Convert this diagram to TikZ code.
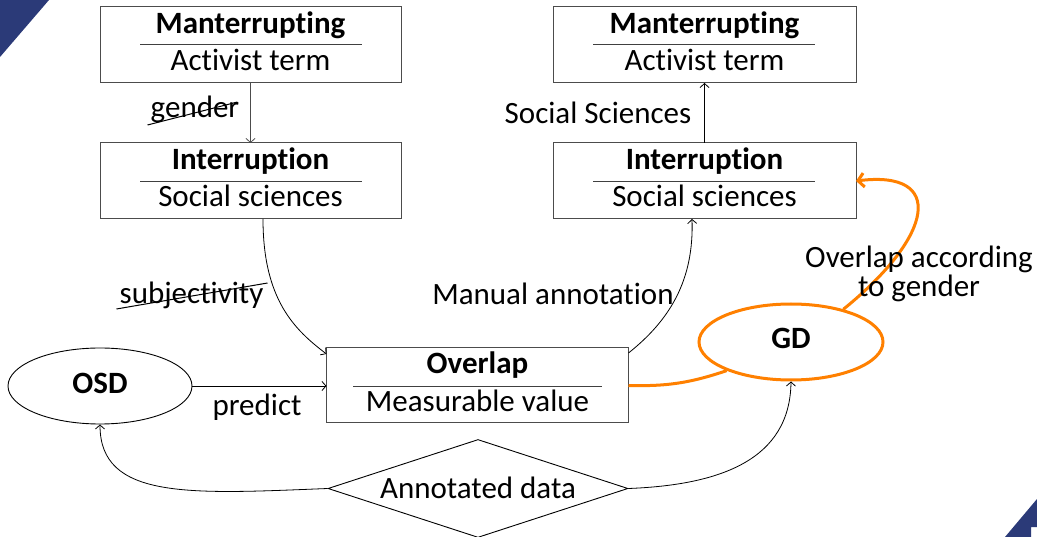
\documentclass[tikz,border=0pt]{standalone}
\usepackage{fontspec}
\setmainfont[Ligatures={NoCommon,NoRequired,NoContextual}]{Carlito}
\usetikzlibrary{arrows.meta,shapes.geometric,calc}
\definecolor{navy}{HTML}{2B3A78}
\definecolor{accent}{HTML}{FF8000}
\tikzset{
  txt/.style={font=\fontsize{31}{29}\selectfont, inner sep=0pt, anchor=base},
  ttl/.style={txt, font=\fontsize{31}{29}\selectfont\bfseries},
  frame/.style={draw=black!70, line width=1pt, inner sep=0pt, outer sep=0pt, rectangle},
  divider/.style={draw=black!75, line width=1pt},
  link/.style={draw=black, line width=0.8pt, -{Straight Barb[length=4pt,width=9pt]}},
  hot/.style={draw=accent, line width=3pt},
  hotlink/.style={hot, -{Straight Barb[length=6pt,width=14pt]}},
  strike/.style={draw=black, line width=1pt},
}
\begin{document}
\begin{tikzpicture}[x=1pt,y=-1pt]
\useasboundingbox (0,0) rectangle (1037,537);

% corner marks
\fill[navy] (0,0) -- (49,0) -- (0,57) -- cycle;
\fill[navy] (1005,537) -- (1037,499) -- (1037,527) -- (1031,527) -- (1031,537) -- cycle;

% two-part boxes
\node[frame, minimum width=301pt, minimum height=76pt] (m1) at (250.5,45) {};
\node[ttl] (m1t) at (250.5,34) {Manterrupting};
\draw[divider] (140,45) -- (362,45);
\node[txt] (m1s) at (250.5,71) {Activist term};

\node[frame, minimum width=303pt, minimum height=76pt] (m2) at (704.5,45) {};
\node[ttl] (m2t) at (704.5,34) {Manterrupting};
\draw[divider] (593,45) -- (815,45);
\node[txt] (m2s) at (704.5,71) {Activist term};

\node[frame, minimum width=301pt, minimum height=76pt] (i1) at (250.5,181) {};
\node[ttl] (i1t) at (250.5,170) {Interruption};
\draw[divider] (140,182) -- (362,182);
\node[txt] (i1s) at (250.5,207) {Social sciences};

\node[frame, minimum width=303pt, minimum height=76pt] (i2) at (704.5,181) {};
\node[ttl] (i2t) at (704.5,170) {Interruption};
\draw[divider] (593,182) -- (815,182);
\node[txt] (i2s) at (704.5,207) {Social sciences};

\node[frame, minimum width=302pt, minimum height=75pt] (ov) at (477.5,385.5) {};
\node[ttl] (ovt) at (477.5,374) {Overlap};
\draw[divider] (353,387) -- (602,387);
\node[txt] (ovs) at (477.5,412) {Measurable value};

% ellipses and diamond
\node[draw=black, line width=0.9pt, ellipse, minimum width=184pt, minimum height=76pt, inner sep=0pt] (osd) at (100,386) {};
\node[ttl] (osdt) at (100,394) {OSD};

\node[draw=accent, line width=3pt, ellipse, minimum width=184pt, minimum height=76pt, inner sep=0pt] (gd) at (791,342) {};
\node[ttl] (gdt) at (791,349) {GD};

\node[draw=black, line width=0.9pt, diamond, aspect=3, minimum width=300pt, minimum height=98pt, inner sep=0pt] (ad) at (478,488.5) {};
\node[txt] (adt) at (478,498) {Annotated data};

% connectors
\draw[link, draw=black!70] (m1.south) -- (i1.north);
\draw[link] (i2.north) -- (m2.south);
\draw[link] ([xshift=12.5pt]i1.south) .. controls (263,300) and (295,330) .. ([yshift=-6pt]ov.north west);
\draw[link] ([yshift=-5pt]ov.north east) .. controls (670,320) and (694,280) .. ([xshift=-12.5pt]i2.south);
\draw[link] (osd.east) -- (osd.east -| ov.west);
\draw[link] (ad.west) .. controls (190,494) and (100,500) .. (osd.south);
\draw[link] (ad.east) .. controls (720,485) and (790,460) .. (gd.south);
\draw[hot] (ov.east) to[bend right=10] (gd.204);
\draw[hotlink] (gd.32) .. controls (935,235) and (945,170) .. (i2.east);

% labels
\node[txt] (lgender) at (195,118) {gender};
\draw[strike] ($(lgender.base west)+(-3,7)$) -- ($(lgender.base east)+(-2,-16)$);
\node[txt] (lsubj) at (191.5,304) {subjectivity};
\draw[strike] ($(lsubj.base west)+(-3,5)$) -- ($(lsubj.base east)+(4,-21)$);
\node[txt] (lsoc) at (598,124) {Social Sciences};
\node[txt] (lman) at (553,305) {Manual annotation};
\node[txt] (lpred) at (257,416) {predict};
\node[txt, align=center] (lgen) at (919,297) {Overlap according\\to gender};
\end{tikzpicture}
\end{document}
